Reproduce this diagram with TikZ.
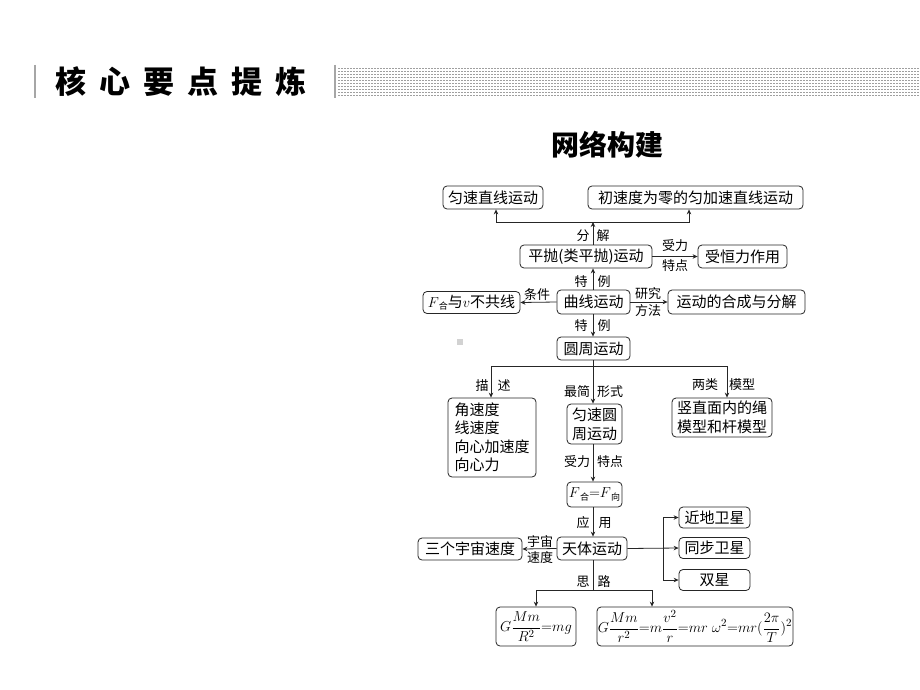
\documentclass[tikz,border=0pt]{standalone}
\usepackage{fontspec}
\newfontfamily\cjk{Noto Sans CJK SC}
\usetikzlibrary{arrows.meta}
\begin{document}
\begin{tikzpicture}[x=1pt,y=-1pt,
 box/.style={draw=black!85, line width=0.8pt, rounded corners=4pt, inner sep=0pt, align=center, font=\cjk\fontsize{15}{19}\selectfont},
 lbl/.style={inner sep=0pt, font=\cjk\fontsize{13}{15}\selectfont},
 arr/.style={draw=black!85, line width=0.8pt, -{Stealth[length=5pt,width=4.5pt]}},
 ln/.style={draw=black!85, line width=0.8pt}]
\useasboundingbox (0,0) rectangle (920,690);
\fill[white] (0,0) rectangle (920,690);
% header
\draw[gray!70, line width=1.5pt] (35,65) -- (35,98);
\node[inner sep=0pt, font=\cjk\bfseries\fontsize{31}{31}\selectfont] (head) at (181,82) {核\hspace{13pt}心\hspace{13pt}要\hspace{13pt}点\hspace{13pt}提\hspace{13pt}炼};
\draw[gray!70, line width=1.5pt] (335,65) -- (335,98);
\foreach \yy in {68.5,71.5,...,96.5}
  \draw[gray!75, line width=1.7pt, dash pattern=on 1.7pt off 1.3pt] (338,\yy) -- (920,\yy);
\node[inner sep=0pt, font=\cjk\bfseries\fontsize{28}{28}\selectfont] (sub) at (607,145) {网络构建};
% nodes
\node[box, minimum width=100pt, minimum height=23pt] (A) at (493,197.5) {匀速直线运动};
\node[box, minimum width=215pt, minimum height=23pt] (B) at (695.5,197.5) {初速度为零的匀加速直线运动};
\node[box, minimum width=132pt, minimum height=23pt] (C) at (586,256.5) {平抛(类平抛)运动};
\node[box, minimum width=89pt, minimum height=23pt] (D) at (742.5,256.5) {受恒力作用};
\node[box, minimum width=73pt, minimum height=24pt] (E) at (593.5,302) {曲线运动};
\node[box, minimum width=97pt, minimum height=22pt] (F) at (471.5,302.5) {$F$\raisebox{-2.5pt}{\fontsize{9}{9}\selectfont 合}与$v$不共线};
\node[box, minimum width=137pt, minimum height=24pt] (G) at (736.5,302) {运动的合成与分解};
\node[box, minimum width=73pt, minimum height=23pt] (H) at (593.5,348.5) {圆周运动};
\node[box, minimum width=88pt, minimum height=79pt, align=left, font=\cjk\fontsize{15}{18.5}\selectfont] (I) at (492,437.5) {角速度\\线速度\\向心加速度\\向心力};
\node[box, minimum width=55pt, minimum height=40pt] (J) at (594.5,424) {匀速圆\\周运动};
\node[box, minimum width=100pt, minimum height=39pt] (K) at (722,417.5) {竖直面内的绳\\模型和杆模型};
\node[box, minimum width=55pt, minimum height=25pt] (L) at (594.5,494.5) {$F$\raisebox{-2.5pt}{\fontsize{9}{9}\selectfont 合}${=}F$\raisebox{-2.5pt}{\fontsize{9}{9}\selectfont 向}};
\node[box, minimum width=70pt, minimum height=23pt] (M) at (592,548.5) {天体运动};
\node[box, minimum width=104pt, minimum height=22pt] (N) at (470,549) {三个宇宙速度};
\node[box, minimum width=71pt, minimum height=21pt] (O) at (714.5,517.5) {近地卫星};
\node[box, minimum width=71pt, minimum height=21pt] (P) at (714.5,548) {同步卫星};
\node[box, minimum width=71pt, minimum height=21pt] (Q) at (714.5,580) {双星};
\node[box, minimum width=80pt, minimum height=39pt] (R) at (536,626.5) {$\displaystyle G\frac{Mm}{R^2}{=}mg$};
\node[box, minimum width=196pt, minimum height=39pt] (S) at (695,626.5) {$\displaystyle G\frac{Mm}{r^2}{=}m\frac{v^2}{r}{=}mr\;\omega^2{=}mr(\frac{2\pi}{T})^2$};
% junction coordinates
\coordinate (t) at (593,222);
\coordinate (h) at (593,366);
\coordinate (j) at (663,548);
\coordinate (s) at (593,590);
\coordinate (sr) at (652,0);
% connectors
\draw[arr] (C.north -| t) -- (t);
\draw[arr] (t) -| ([xshift=3pt]A.south);
\draw[arr] (t) -| ([xshift=-6.5pt]B.south);
\draw[arr] (C.east) -- (D.west);
\draw[arr] (E.north -| t) -- (t |- C.south);
\draw[arr] (E.west) -- (F.east);
\draw[arr] (E.east) -- (G.west);
\draw[arr] (E.south -| t) -- (t |- H.north);
\draw[ln] (H.south -| t) -- (h);
\draw[arr] (h) -| ([xshift=-1pt]I.north);
\draw[arr] (h) -| ([xshift=5pt]K.north);
\draw[arr] (h) -- (h |- J.north);
\draw[arr] (J.south -| t) -- (t |- L.north);
\draw[arr] (L.south -| t) -- (t |- M.north);
\draw[arr] (M.west) -- (N.east);
\draw[arr] (M.east) -- (P.west);
\draw[arr] (j) |- (O.west);
\draw[arr] (j) |- (Q.west);
\draw[ln] (M.south -| t) -- (s);
\draw[arr] (s) -| (R.north);
\draw[arr] (s) -| (S.north -| sr);
% labels
\node[lbl] (l1) at (583,236) {分};
\node[lbl] (l2) at (603,236) {解};
\node[lbl] (l3) at (675,246) {受力};
\node[lbl] (l4) at (675,266) {特点};
\node[lbl] (l5) at (581,282) {特};
\node[lbl] (l6) at (604,282) {例};
\node[lbl] (l7) at (537,295) {条件};
\node[lbl] (l8) at (648,294) {研究};
\node[lbl] (l9) at (648,311) {方法};
\node[lbl] (l10) at (581,326) {特};
\node[lbl] (l11) at (604,326) {例};
\node[lbl] (l12) at (482,386) {描};
\node[lbl] (l13) at (504,386) {述};
\node[lbl] (l14) at (577,392) {最简};
\node[lbl] (l15) at (610,392) {形式};
\node[lbl] (l16) at (705,385) {两类};
\node[lbl] (l17) at (742,385) {模型};
\node[lbl] (l18) at (577,462) {受力};
\node[lbl] (l19) at (610,462) {特点};
\node[lbl] (l20) at (583,523) {应};
\node[lbl] (l21) at (605,523) {用};
\node[lbl] (l22) at (540,541) {宇宙};
\node[lbl] (l23) at (540,558) {速度};
\node[lbl] (l24) at (583,582) {思};
\node[lbl] (l25) at (604,582) {路};
% stray mark
\fill[gray!35] (457,339) rectangle (463,345);
\end{tikzpicture}
\end{document}
